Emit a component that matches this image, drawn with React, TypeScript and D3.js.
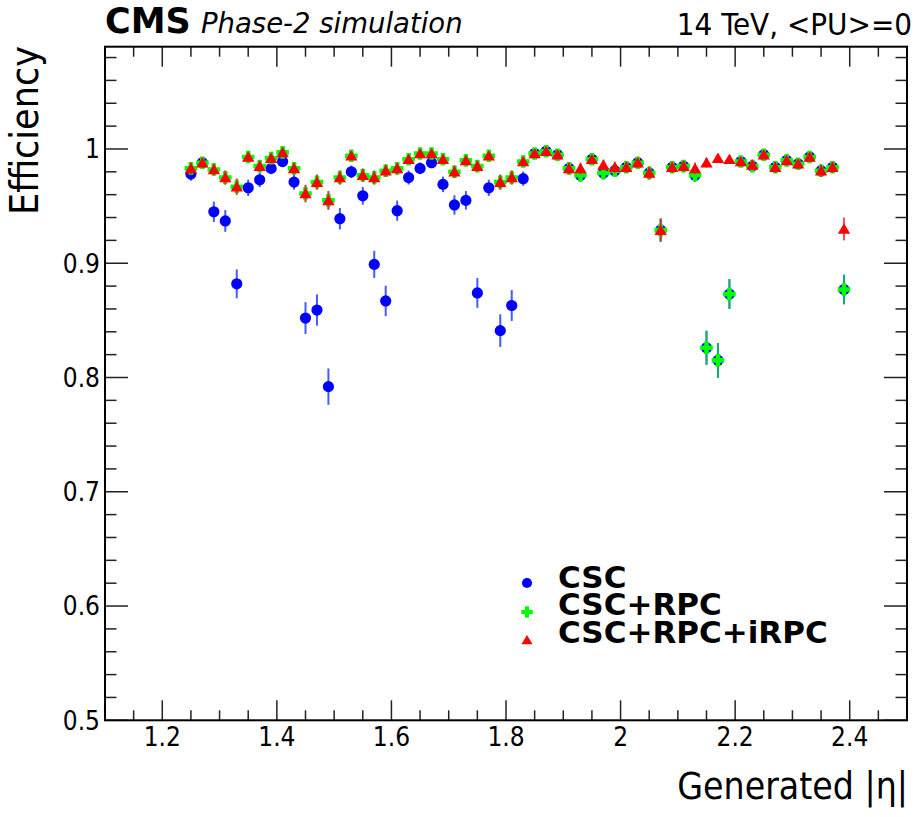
import React from "react";
import * as d3 from "d3";

// generated |eta| bin centres
const etaBins = [
  1.25, 1.27, 1.29, 1.31, 1.33, 1.35, 1.37, 1.39, 1.41, 1.43, 1.45, 1.47, 1.49, 1.51, 1.53,
  1.55, 1.57, 1.59, 1.61, 1.63, 1.65, 1.67, 1.69, 1.71, 1.73, 1.75, 1.77, 1.79, 1.81, 1.83,
  1.85, 1.87, 1.89, 1.91, 1.93, 1.95, 1.97, 1.99, 2.01, 2.03, 2.05, 2.07, 2.09, 2.11, 2.13,
  2.15, 2.17, 2.19, 2.21, 2.23, 2.25, 2.27, 2.29, 2.31, 2.33, 2.35, 2.37, 2.39,
];

const effCSC = [
  0.978, 0.988, 0.945, 0.937, 0.882, 0.966, 0.973, 0.983, 0.989, 0.971, 0.852, 0.859, 0.792, 0.939, 0.98,
  0.959, 0.899, 0.867, 0.946, 0.975, 0.983, 0.988, 0.969, 0.951, 0.955, 0.874, 0.966, 0.841, 0.863, 0.974,
  0.996, 0.998, 0.995, 0.983, 0.977, 0.991, 0.979, 0.981, 0.984, 0.988, 0.979, 0.929, 0.984, 0.985, 0.977,
  0.826, 0.815, 0.873, 0.989, 0.985, 0.995, 0.984, 0.99, 0.987, 0.993, 0.981, 0.984, 0.877,
];

const effCSCRPC = [
  0.983, 0.988, 0.982, 0.975, 0.967, 0.993, 0.985, 0.992, 0.997, 0.983, 0.961, 0.971, 0.955, 0.975, 0.994,
  0.977, 0.975, 0.981, 0.983, 0.991, 0.996, 0.996, 0.991, 0.98, 0.99, 0.985, 0.994, 0.971, 0.975, 0.989,
  0.996, 0.998, 0.995, 0.983, 0.977, 0.991, 0.979, 0.981, 0.984, 0.988, 0.979, 0.929, 0.984, 0.985, 0.977,
  0.826, 0.815, 0.873, 0.989, 0.985, 0.995, 0.984, 0.99, 0.987, 0.993, 0.981, 0.984, 0.877,
];

const effCSCRPCiRPC = [
  0.983, 0.988, 0.982, 0.975, 0.967, 0.993, 0.985, 0.992, 0.997, 0.983, 0.961, 0.971, 0.955, 0.975, 0.994,
  0.977, 0.975, 0.981, 0.983, 0.991, 0.996, 0.996, 0.991, 0.98, 0.99, 0.985, 0.994, 0.971, 0.975, 0.989,
  0.996, 0.998, 0.995, 0.983, 0.983, 0.991, 0.986, 0.984, 0.984, 0.988, 0.979, 0.929, 0.984, 0.985, 0.983,
  0.988, 0.992, 0.991, 0.989, 0.986, 0.995, 0.984, 0.99, 0.987, 0.993, 0.981, 0.984, 0.93,
];

// muons per bin, used for the binomial error bars
const eventsPerBin = 650;

const xTickValues = [1.2, 1.4, 1.6, 1.8, 2.0, 2.2, 2.4];
const xTickLabels = ["1.2", "1.4", "1.6", "1.8", "2", "2.2", "2.4"];
const yTickValues = [0.5, 0.6, 0.7, 0.8, 0.9, 1.0];
const yTickLabels = ["0.5", "0.6", "0.7", "0.8", "0.9", "1"];

const legendLabels = ["CSC", "CSC+RPC", "CSC+RPC+iRPC"];

const W = 921;
const H = 817;
const frame = { left: 105, right: 907, top: 46.7, bottom: 720.3 };

const condensed = "'DejaVu Sans Condensed', 'DejaVu Sans', sans-serif";
const dejavu = "'DejaVu Sans', sans-serif";

const circlePath = d3.symbol(d3.symbolCircle, Math.PI * 5.6 * 5.6)() as string;
const crossPath = (() => {
  const a = 6.3;
  const t = 2.3;
  return `M${-t},${-a}H${t}V${-t}H${a}V${t}H${t}V${a}H${-t}V${t}H${-a}V${-t}H${-t}Z`;
})();
const trianglePath = "M0,-5.6L6.2,4.8L-6.2,4.8Z";

const series = [
  { name: legendLabels[0], values: effCSC, color: "#0000ff", bar: "rgba(20,50,255,0.8)", marker: circlePath },
  { name: legendLabels[1], values: effCSCRPC, color: "#00ff00", bar: "rgba(0,200,60,0.75)", marker: crossPath },
  { name: legendLabels[2], values: effCSCRPCiRPC, color: "#ff0000", bar: "rgba(255,20,20,0.75)", marker: trianglePath },
];

export default function App() {
  const x = d3.scaleLinear().domain([1.1, 2.5]).range([frame.left, frame.right]);
  const y = d3.scaleLinear().domain([0.5, 1.0895]).range([frame.bottom, frame.top]);

  const xMinor = d3.range(1.1, 2.5001, 0.05).filter((v) => !xTickValues.some((m) => Math.abs(m - v) < 1e-6));
  const yMinor = d3.range(0.52, 1.0895, 0.02).filter((v) => !yTickValues.some((m) => Math.abs(m - v) < 1e-6));

  const legendY = [583, 612, 640];
  const legendTextY = [588, 615, 643];

  return (
    <svg
      width={W}
      height={H}
      style={{ position: "absolute", left: 0, top: 0, background: "#fff" }}
    >
      <rect x={0} y={0} width={W} height={H} fill="#fff" />

      {/* ticks */}
      <g stroke="#222" strokeWidth={1.5}>
        {xTickValues.map((v) => (
          <g key={`xm${v}`}>
            <line x1={x(v)} x2={x(v)} y1={frame.bottom} y2={frame.bottom - 20} />
            <line x1={x(v)} x2={x(v)} y1={frame.top} y2={frame.top + 20} />
          </g>
        ))}
        {xMinor.map((v) => (
          <g key={`xn${v}`}>
            <line x1={x(v)} x2={x(v)} y1={frame.bottom} y2={frame.bottom - 10} />
            <line x1={x(v)} x2={x(v)} y1={frame.top} y2={frame.top + 10} />
          </g>
        ))}
        {yTickValues.map((v) => (
          <g key={`ym${v}`}>
            <line x1={frame.left} x2={frame.left + 23} y1={y(v)} y2={y(v)} />
            <line x1={frame.right} x2={frame.right - 23} y1={y(v)} y2={y(v)} />
          </g>
        ))}
        {yMinor.map((v) => (
          <g key={`yn${v}`}>
            <line x1={frame.left} x2={frame.left + 11.5} y1={y(v)} y2={y(v)} />
            <line x1={frame.right} x2={frame.right - 11.5} y1={y(v)} y2={y(v)} />
          </g>
        ))}
      </g>

      <rect
        x={frame.left}
        y={frame.top}
        width={frame.right - frame.left}
        height={frame.bottom - frame.top}
        fill="none"
        stroke="#000"
        strokeWidth={2}
      />

      {/* tick labels */}
      <g fontFamily={condensed} fontSize={26} fill="#000" style={{ fontStretch: "condensed" }}>
        {xTickValues.map((v, i) => (
          <text key={`xl${v}`} x={x(v)} y={746} textAnchor="middle">
            {xTickLabels[i]}
          </text>
        ))}
        {yTickValues.map((v, i) => (
          <text key={`yl${v}`} x={100} y={y(v) + 9.4} textAnchor="end">
            {yTickLabels[i]}
          </text>
        ))}
      </g>

      {/* axis titles */}
      <text
        x={908}
        y={799}
        textAnchor="end"
        fontFamily={condensed}
        fontSize={37}
        style={{ fontStretch: "condensed" }}
      >
        Generated |η|
      </text>
      <text
        transform="translate(38,46) rotate(-90)"
        textAnchor="end"
        fontFamily={condensed}
        fontSize={39}
        style={{ fontStretch: "condensed" }}
      >
        Efficiency
      </text>

      {/* header */}
      <text x={105} y={33} fontFamily={dejavu} fontWeight="bold" fontSize={35}>
        CMS
      </text>
      <text x={201} y={33} fontFamily={dejavu} fontStyle="italic" fontSize={27.5}>
        Phase-2 simulation
      </text>
      <text
        x={912}
        y={35}
        textAnchor="end"
        fontFamily={condensed}
        fontSize={31}
        style={{ fontStretch: "condensed" }}
      >
        14 TeV, &lt;PU&gt;=0
      </text>

      {/* data */}
      {series.map((s) => (
        <g key={s.name}>
          {s.values.map((e, i) => {
            const err = Math.sqrt((e * (1 - e)) / eventsPerBin);
            return (
              <line
                key={i}
                x1={x(etaBins[i])}
                x2={x(etaBins[i])}
                y1={y(Math.max(e - err, 0))}
                y2={y(Math.min(e + err, 1))}
                stroke={s.bar}
                strokeWidth={2}
              />
            );
          })}
          {s.values.map((e, i) => (
            <path
              key={`m${i}`}
              d={s.marker}
              transform={`translate(${x(etaBins[i])},${y(e)})`}
              fill={s.color}
            />
          ))}
        </g>
      ))}

      {/* legend */}
      {series.map((s, i) => (
        <g key={`lg${s.name}`}>
          <path
            d={s.marker}
            transform={`translate(527,${legendY[i]}) scale(0.9)`}
            fill={s.color}
          />
          <text x={558} y={legendTextY[i]} fontFamily={dejavu} fontWeight="bold" fontSize={31}>
            {s.name}
          </text>
        </g>
      ))}
    </svg>
  );
}
